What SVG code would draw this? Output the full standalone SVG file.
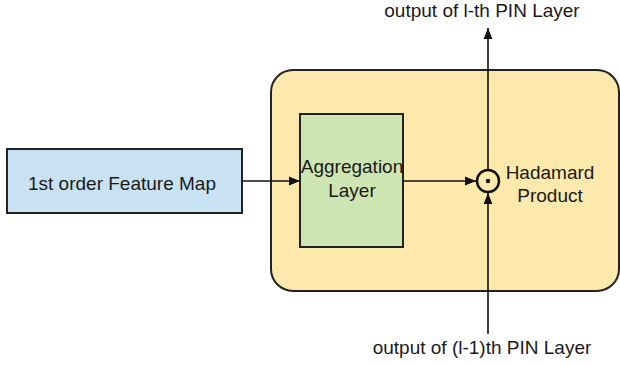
<svg xmlns="http://www.w3.org/2000/svg" width="620" height="366" viewBox="0 0 620 366">
<style>
.t{font-family:"Liberation Sans",Arial,sans-serif;font-size:19px;fill:#1a1a1a;text-anchor:middle}
.box{stroke:#222;stroke-width:2}
.c{stroke:#111;stroke-width:1.6;fill:none}
</style>
<defs>
<marker id="ah" viewBox="0 0 10 10" refX="10" refY="5" markerWidth="11" markerHeight="11" markerUnits="userSpaceOnUse" orient="auto">
<path d="M0,1 L10,5 L0,9 Z" fill="#111"/>
</marker>
</defs>
<g id="container"><rect class="box" x="271" y="70" width="348" height="221" rx="22" fill="#fde9ac"/></g>
<g id="feature-map"><rect class="box" x="7" y="149" width="235" height="64" fill="#c8e2f3"/><text class="t" x="122" y="190">1st order Feature Map</text></g>
<g id="aggregation"><rect class="box" x="300" y="114" width="103" height="133" fill="#cde5b3"/><text class="t" x="352" y="173">Aggregation</text><text class="t" x="352" y="197">Layer</text></g>
<g id="hadamard"><circle cx="488" cy="181" r="11" fill="none" stroke="#111" stroke-width="2.5"/><circle cx="488" cy="181" r="2.2" fill="#111"/><text class="t" x="550" y="179">Hadamard</text><text class="t" x="550" y="202">Product</text></g>
<g id="labels"><text class="t" x="482" y="17">output of l-th PIN Layer</text><text class="t" x="482" y="354">output of (l-1)th PIN Layer</text></g>
<g id="connectors">
<path class="c" d="M242,181 H300" marker-end="url(#ah)"/>
<path class="c" d="M403,181 H476" marker-end="url(#ah)"/>
<path class="c" d="M488,170 V28" marker-end="url(#ah)"/>
<path class="c" d="M488,334 V193" marker-end="url(#ah)"/>
</g>
</svg>
